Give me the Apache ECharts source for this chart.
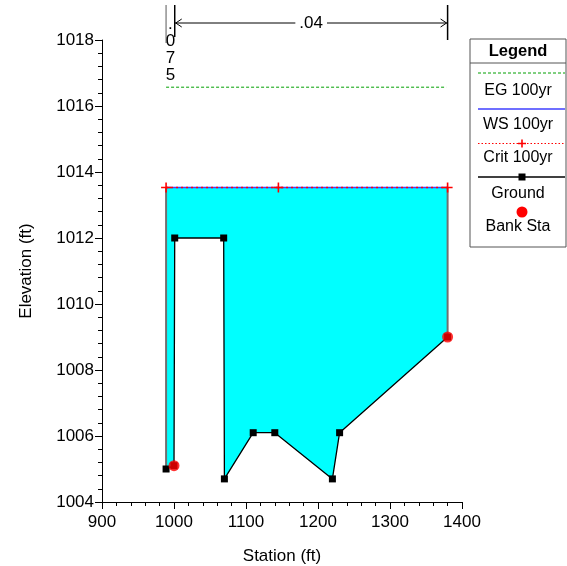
<!DOCTYPE html>
<html><head><meta charset="utf-8">
<script src="https://cdn.jsdelivr.net/npm/echarts@6/dist/echarts.min.js"></script>
<style>html,body{margin:0;padding:0;background:#fff}#c{width:567px;height:566px}</style>
</head><body><div id="c"></div>
<script>
// ---- data ----
const groundSta  = [989, 1000, 1001, 1069, 1070, 1110, 1140, 1220, 1230, 1380];
const groundElev = [1005.0, 1005.1, 1012.0, 1012.0, 1004.7, 1006.1, 1006.1, 1004.7, 1006.1, 1009.0];
const wsElev = 1013.53;
const wsSta = [989, 1380];
const critElev = 1013.53;
const critSta = [989, 1145, 1380];
const egElev = 1016.57;
const egSta = [989, 1378];
const bankSta = [1000, 1380];
const bankElev = [1005.1, 1009.0];
const nStations = [989, 1001, 1380];
const nValues = ['.075', '.04'];
const xTicks = [900, 1400, 100];
const yTicks = [1004, 1018, 2];
const legendItems = ['EG 100yr', 'WS 100yr', 'Crit 100yr', 'Ground', 'Bank Sta'];

const FONT = "'Liberation Sans', Arial, sans-serif";
const ground = groundSta.map((s, i) => [s, groundElev[i]]);
const waterPoly = [[groundSta[0], wsElev], [groundSta[groundSta.length - 1], wsElev]]
  .concat(ground.slice().reverse());
const plusPath = 'path://M4.2,0 H5.8 V4.2 H10 V5.8 H5.8 V10 H4.2 V5.8 H0 V4.2 H4.2 Z';

const chart = echarts.init(document.getElementById('c'), null, {renderer: 'canvas'});
const axisCommon = {
  axisLine: {show: true, onZero: false, lineStyle: {color: '#000', width: 1}},
  axisTick: {show: true, inside: false, length: 7, lineStyle: {color: '#000'}},
  minorTick: {show: true, splitNumber: 5, length: 4, lineStyle: {color: '#000'}},
  splitLine: {show: false},
  axisLabel: {color: '#000', fontSize: 17, fontFamily: FONT, formatter: v => String(v)},
  nameTextStyle: {color: '#000', fontSize: 17, fontFamily: FONT},
  nameLocation: 'middle'
};
chart.setOption({
  animation: false,
  grid: {left: 102, right: 105, top: 40, bottom: 64, containLabel: false, outerBoundsMode: 'none'},
  xAxis: Object.assign({}, axisCommon, {
    type: 'value', min: xTicks[0], max: xTicks[1], interval: xTicks[2],
    name: 'Station (ft)', nameGap: 46,
    axisLabel: Object.assign({}, axisCommon.axisLabel, {margin: 12})
  }),
  yAxis: Object.assign({}, axisCommon, {
    type: 'value', min: yTicks[0], max: yTicks[1], interval: yTicks[2],
    name: 'Elevation (ft)', nameGap: 67,
    axisLabel: Object.assign({}, axisCommon.axisLabel, {margin: 8})
  }),
  series: [
    {
      type: 'custom', name: 'water', z: 1, silent: true,
      data: [0],
      renderItem: function (params, api) {
        const pts = waterPoly.map(p => api.coord(p));
        return {type: 'polygon', shape: {points: pts}, style: {fill: '#00ffff', stroke: null}};
      }
    },
    {type: 'line', z: 2, symbol: 'none', lineStyle: {color: '#707070', width: 2},
     data: [[groundSta[0], groundElev[0]], [groundSta[0], wsElev]]},
    {type: 'line', z: 2, symbol: 'none', lineStyle: {color: '#707070', width: 2},
     data: [[groundSta[groundSta.length - 1], groundElev[groundElev.length - 1]], [groundSta[groundSta.length - 1], wsElev]]},
    {type: 'line', name: 'WS 100yr', z: 3, symbol: 'none', lineStyle: {color: '#3f3fff', width: 1.5},
     data: wsSta.map(s => [s, wsElev])},
    {type: 'line', name: 'Crit 100yr', z: 4, symbol: plusPath, symbolSize: 10, showAllSymbol: true,
     itemStyle: {color: '#ff0000'}, lineStyle: {color: '#ff0000', width: 1.5, type: [2, 3]},
     data: critSta.map(s => [s, critElev])},
    {type: 'line', name: 'EG 100yr', z: 4, symbol: 'none', lineStyle: {color: '#00a000', width: 1, type: [3, 2]},
     data: egSta.map(s => [s, egElev])},
    {type: 'line', name: 'Ground', z: 5, symbol: 'rect', symbolSize: 7, showAllSymbol: true,
     itemStyle: {color: '#000'}, lineStyle: {color: '#000', width: 1.3}, data: ground},
    {type: 'scatter', name: 'Bank Sta', z: 6, symbol: 'circle', symbolSize: 11,
     itemStyle: {color: '#ff0000'}, data: bankSta.map((s, i) => [s, bankElev[i]])}
  ]
});

// ---- annotations (Manning's n) and legend ----
const px = v => chart.convertToPixel({xAxisIndex: 0}, v);
const x0 = px(nStations[0]), x1 = px(nStations[1]), x2 = px(nStations[2]);
const ay = 23;
const g = [];
g.push({type: 'line', shape: {x1: x0, y1: 5, x2: x0, y2: 43}, style: {stroke: '#909090', lineWidth: 1.5}});
g.push({type: 'line', shape: {x1: x1, y1: 5, x2: x1, y2: 37}, style: {stroke: '#000', lineWidth: 1.5}});
g.push({type: 'line', shape: {x1: x2, y1: 5, x2: x2, y2: 40}, style: {stroke: '#000', lineWidth: 1.5}});
g.push({type: 'line', shape: {x1: x1, y1: ay, x2: x2, y2: ay}, style: {stroke: '#000', lineWidth: 1}});
g.push({type: 'polyline', shape: {points: [[x1 + 7, ay - 4], [x1 + 1, ay], [x1 + 7, ay + 4]]}, style: {stroke: '#000', lineWidth: 1, fill: null}});
g.push({type: 'polyline', shape: {points: [[x2 - 7, ay - 4], [x2 - 1, ay], [x2 - 7, ay + 4]]}, style: {stroke: '#000', lineWidth: 1, fill: null}});
g.push({type: 'text', x: (x1 + x2) / 2, y: ay, z: 10,
  style: {text: nValues[1], fill: '#000', font: '17px ' + FONT, align: 'center', verticalAlign: 'middle',
          backgroundColor: '#fff', padding: [0, 4]}});
g.push({type: 'text', x: (x0 + x1) / 2, y: 16,
  style: {text: nValues[0].split('').join('\n'), fill: '#000', font: '17px ' + FONT, align: 'center',
          verticalAlign: 'top', lineHeight: 17}});

// legend box
const LX = 470, LY = 39, LW = 96, LH = 208, cx = LX + LW / 2, mx = cx + 4;
const F = '16px ' + FONT;
g.push({type: 'rect', shape: {x: LX, y: LY, width: LW, height: LH}, style: {fill: '#fff', stroke: '#555', lineWidth: 1}});
g.push({type: 'text', x: cx, y: 51, style: {text: 'Legend', font: 'bold 16.5px ' + FONT, fill: '#000', align: 'center', verticalAlign: 'middle'}});
g.push({type: 'line', shape: {x1: LX, y1: 63, x2: LX + LW, y2: 63}, style: {stroke: '#555', lineWidth: 1}});
const ls = LX + 8, le = LX + LW - 1;
g.push({type: 'line', shape: {x1: ls, y1: 73, x2: le, y2: 73}, style: {stroke: '#00a000', lineWidth: 1, lineDash: [3, 2]}});
g.push({type: 'text', x: cx, y: 91, style: {text: legendItems[0], font: F, fill: '#000', align: 'center', verticalAlign: 'middle'}});
g.push({type: 'line', shape: {x1: ls, y1: 109, x2: le, y2: 109}, style: {stroke: '#3f3fff', lineWidth: 1.5}});
g.push({type: 'text', x: cx, y: 125, style: {text: legendItems[1], font: F, fill: '#000', align: 'center', verticalAlign: 'middle'}});
g.push({type: 'line', shape: {x1: ls, y1: 143.5, x2: le, y2: 143.5}, style: {stroke: '#ff0000', lineWidth: 1, lineDash: [1.5, 2]}});
g.push({type: 'polygon', shape: {points: [[-0.8,-4],[0.8,-4],[0.8,-0.8],[4,-0.8],[4,0.8],[0.8,0.8],[0.8,4],[-0.8,4],[-0.8,0.8],[-4,0.8],[-4,-0.8],[-0.8,-0.8]]}, x: mx, y: 143.5, style: {fill: '#ff0000'}});
g.push({type: 'text', x: cx, y: 158, style: {text: legendItems[2], font: F, fill: '#000', align: 'center', verticalAlign: 'middle'}});
g.push({type: 'line', shape: {x1: ls, y1: 177, x2: le, y2: 177}, style: {stroke: '#000', lineWidth: 1.3}});
g.push({type: 'rect', shape: {x: mx - 3.5, y: 177 - 3.5, width: 7, height: 7}, style: {fill: '#000'}});
g.push({type: 'text', x: cx, y: 194, style: {text: legendItems[3], font: F, fill: '#000', align: 'center', verticalAlign: 'middle'}});
g.push({type: 'circle', shape: {cx: mx, cy: 212, r: 5.5}, style: {fill: '#ff0000'}});
g.push({type: 'text', x: cx, y: 227, style: {text: legendItems[4], font: F, fill: '#000', align: 'center', verticalAlign: 'middle'}});

chart.setOption({graphic: g.map(e => Object.assign({silent: true}, e))});
</script>
</body></html>
